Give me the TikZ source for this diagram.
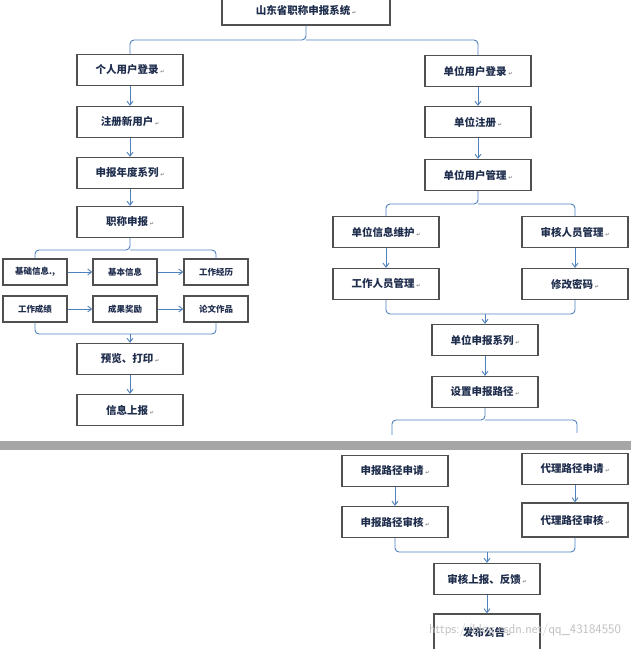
\documentclass[tikz,border=0pt]{standalone}
\usepackage{fontspec}
\newfontfamily\cjk{Noto Sans CJK SC}
\newfontfamily\dejavu{DejaVu Sans}
\usetikzlibrary{calc, positioning, arrows.meta}
\definecolor{lineblue}{HTML}{4F81BD}
\definecolor{boxgray}{HTML}{505050}
\definecolor{textblue}{HTML}{1F2D4D}
\newcommand{\ret}{\,{\dejavu\tiny\color{gray}↵}}
\tikzset{
  box/.style={draw=boxgray, line width=1.3pt, fill=white, minimum width=106pt, minimum height=31pt,
    font=\cjk\bfseries\fontsize{10.5}{12}\selectfont, text=textblue, inner sep=2pt},
  sbox/.style={box, minimum width=64pt, minimum height=26pt, font=\cjk\bfseries\fontsize{8.5}{10}\selectfont},
  arr/.style={draw=lineblue, line width=0.9pt, -{Straight Barb[length=4pt,width=6pt]}},
  br/.style={draw=lineblue, line width=0.9pt, rounded corners=4pt}
}
\begin{document}
\begin{tikzpicture}[x=1pt,y=-1pt]
  \useasboundingbox (0,0) rectangle (631,649);
  % title
  \node[box, minimum width=168pt, minimum height=30pt] (title) at (306,10) {山东省职称申报系统\ret};

  % left branch
  \node[box] (pl) at (130,70) {个人用户登录\ret};
  \node[box] (zc) at (130,122) {注册新用户\ret};
  \node[box] (nd) at (130,173) {申报年度系列\ret};
  \node[box] (zs) at (130,222) {职称申报\ret};
  \node[sbox] (jc) at (35,272) {基础信息.,};
  \node[sbox] (jb) at (125,272) {基本信息};
  \node[sbox] (jl) at (216,272) {工作经历};
  \node[sbox] (cj) at (35,309) {工作成绩};
  \node[sbox] (jf) at (125,309) {成果奖励};
  \node[sbox] (lw) at (216,309) {论文作品};
  \node[box] (yl) at (130,359) {预览、打印\ret};
  \node[box] (sb) at (130,410) {信息上报\ret};

  % right branch
  \node[box] (dl) at (478,71) {单位用户登录\ret};
  \node[box] (dz) at (478,122) {单位注册\ret};
  \node[box] (dg) at (478,175) {单位用户管理\ret};
  \node[box] (wh) at (386,232) {单位信息维护\ret};
  \node[box] (sh) at (575,232) {审核人员管理\ret};
  \node[box] (gz) at (386,284) {工作人员管理\ret};
  \node[box] (mm) at (575,284) {修改密码\ret};
  \node[box] (xl) at (485,340) {单位申报系列\ret};
  \node[box] (lj) at (485,392) {设置申报路径\ret};

  % separator
  \fill[gray!70] (0,441) rectangle (631,450);

  % lower part
  \node[box] (sq) at (395,471) {申报路径申请\ret};
  \node[box] (dq) at (575,469) {代理路径申请\ret};
  \node[box] (ss) at (395,522) {申报路径审核\ret};
  \node[box, minimum height=34pt] (ds) at (575,520) {代理路径审核\ret};
  \node[box] (fk) at (487,579) {审核上报、反馈\ret};
  \node[box, minimum height=36pt] (gg) at (487,632) {发布公告\ret};
  \node[text=gray!50, font=\fontsize{13}{14}\selectfont\sffamily] (wm) at (525,630) {https://blog.csdn.net/qq\_43184550};

  % splits
  \coordinate (t1) at (306,40);
  \draw[br] (title.south) -- (t1) -| (pl.north);
  \draw[br] (t1) -| (dl.north);
  \coordinate (t2) at (130,250);
  \draw[br] (zs.south) -- (t2) -| (jc.north);
  \draw[br] (t2) -| (jl.north);
  \coordinate (t3) at (130,334);
  \draw[br] (cj.south) |- (t3) -| (lw.south);
  \coordinate (t4) at (478,204);
  \draw[br] (dg.south) -- (t4) -| (wh.north);
  \draw[br] (t4) -| (sh.north);
  \coordinate (t5) at (485,314);
  \draw[br] (gz.south) |- (t5) -| (mm.south);
  \coordinate (t6) at (485,420);
  \draw[br] (lj.south) -- (t6) -| ($(sq.north)+(-3,-20)$);
  \draw[br] (t6) -| ($(dq.north)+(2,-20)$);
  \coordinate (t7) at (487,552);
  \draw[br] (ss.south) |- (t7) -| (ds.south);

  % arrows
  \draw[arr] (t3) -- (yl.north);
  \draw[arr] (t5) -- (xl.north);
  \draw[arr] (t7) -- (fk.north);
  \foreach \a/\b in {pl/zc, zc/nd, nd/zs, yl/sb, dl/dz, dz/dg, wh/gz, sh/mm, xl/lj, sq/ss, dq/ds, fk/gg, jc/jb, jb/jl, cj/jf, jf/lw}
    \draw[arr] (\a) -- (\b);
\end{tikzpicture}
\end{document}
